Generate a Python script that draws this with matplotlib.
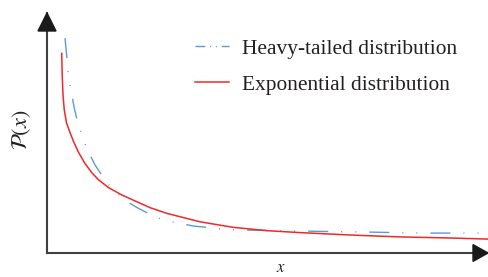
import matplotlib
matplotlib.use("Agg")
import matplotlib.pyplot as plt
from matplotlib.lines import Line2D
from matplotlib.patches import Polygon

plt.rcParams['font.family'] = ['Liberation Serif', 'DejaVu Serif']
plt.rcParams['mathtext.fontset'] = 'stix'

# Data (arbitrary units)
x_heavy = [4.08, 4.31, 4.60, 4.83, 5.37, 6.19, 6.87, 7.87, 8.84, 10.88, 12.54, 14.29,
           16.78, 18.82, 20.34, 22.97, 25.85, 28.80, 33.17, 36.21, 39.23, 42.25,
           46.78, 52.83, 61.90, 71.66, 85.26, 98.87]
y_heavy = [89.5, 85.3, 79.7, 74.2, 68.6, 60.3, 55.1, 49.6, 44.3, 36.7, 32.1, 27.7,
           23.5, 20.7, 19.0, 16.5, 14.2, 12.8, 11.25, 10.7, 10.1, 9.7,
           9.5, 9.3, 9.0, 8.75, 8.3, 8.3]
x_exp = [3.33, 3.45, 3.63, 3.92, 4.42, 5.22, 5.96, 7.10, 8.62, 10.14, 11.63, 13.90,
         16.94, 19.95, 23.36, 27.21, 34.69, 42.18, 49.89, 57.37, 68.71, 80.05, 91.38, 100.0]
y_exp = [83.2, 74.2, 65.8, 59.6, 54.2, 50.2, 46.7, 42.1, 37.3, 33.5, 30.6, 27.3,
         24.2, 21.7, 18.9, 16.5, 13.0, 10.7, 9.3, 8.5, 7.5, 6.7, 6.25, 5.8]
labels = ["Heavy-tailed distribution", "Exponential distribution"]

blue = '#5B9BD5'
red = '#F02828'

fig = plt.figure(figsize=(4.88, 2.77), dpi=100)
W, H = 488, 277
ax = fig.add_axes([47 / W, (H - 253) / H, (488 - 47) / W, (253 - 13) / H])
ax.set_xlim(0, 100)
ax.set_ylim(0, 100)

ax.plot(x_heavy, y_heavy, color=blue, lw=1.0, solid_joinstyle='round',
        linestyle=(0, (14.4, 9.4, 0.7, 9.4, 0.7, 9.4)))
ax.plot(x_exp, y_exp, color=red, lw=1.1, solid_joinstyle='round')

for s in ['top', 'right']:
    ax.spines[s].set_visible(False)
for s in ['left', 'bottom']:
    ax.spines[s].set_color('#404040')
    ax.spines[s].set_linewidth(1.5)
ax.set_xticks([])
ax.set_yticks([])

# arrowheads
ax.add_patch(Polygon([[1.0, 0.0], [1 - 0.034, 0.035], [1 - 0.034, -0.035]],
                     closed=True, transform=ax.transAxes, clip_on=False,
                     color='#1a1a1a', zorder=5))
ax.add_patch(Polygon([[0.0, 1.0], [-0.0204, 1 - 0.075], [0.0204, 1 - 0.075]],
                     closed=True, transform=ax.transAxes, clip_on=False,
                     color='#1a1a1a', zorder=5))

handles = [Line2D([0], [0], color=blue, lw=1.0,
                  linestyle=(0, (7, 3.5, 0.7, 3.5, 0.7, 3.5))),
           Line2D([0], [0], color=red, lw=1.1)]
leg = ax.legend(handles, labels, loc='upper left',
                bbox_to_anchor=((195 - 47) / 441, 1 - (39 - 13) / 240),
                frameon=False, fontsize=15.4, handlelength=1.6,
                handletextpad=0.6, labelspacing=0.75, borderpad=0.0,
                borderaxespad=0.0)
for t in leg.get_texts():
    t.set_color('#231f20')

fig.text(22 / W, 1 - 130 / H, r'$\mathcal{P}(x)$', rotation=90,
         ha='center', va='center', fontsize=16, color='#231f20')
fig.text(281 / W, 1 - 268 / H, r'$x$', ha='center', va='center',
         fontsize=12, color='#231f20')

fig.savefig('out.png', dpi=100)
